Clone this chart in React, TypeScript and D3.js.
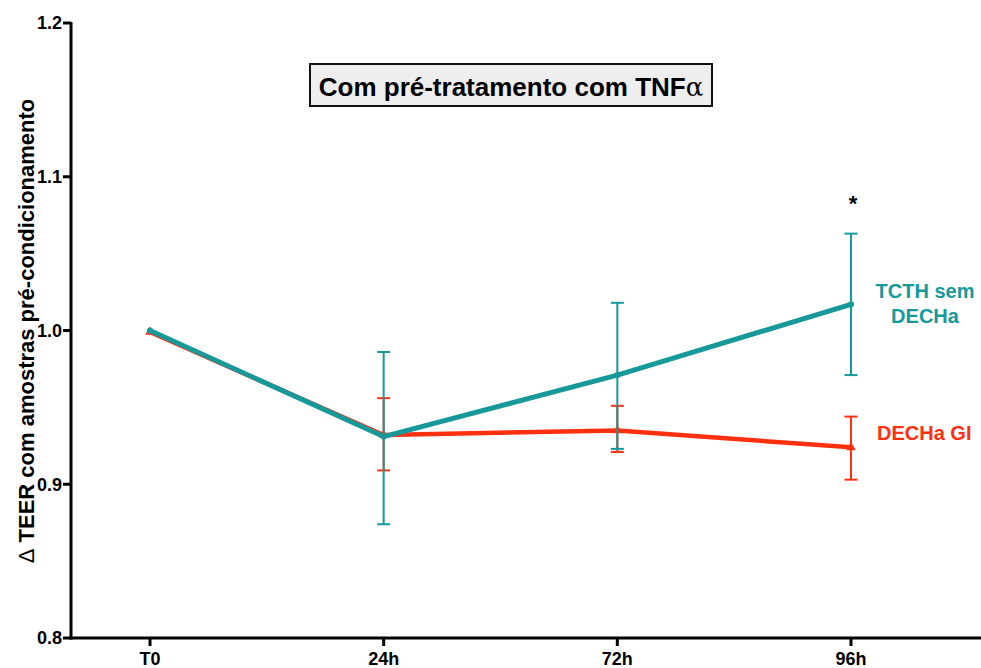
import React from "react";
import * as d3 from "d3";

const categories = ["T0", "24h", "72h", "96h"];
const yTicks = [0.8, 0.9, 1.0, 1.1, 1.2];

const tcthMean = [1.0, 0.931, 0.971, 1.017];
const tcthLow = [1.0, 0.874, 0.923, 0.971];
const tcthHigh = [1.0, 0.986, 1.018, 1.063];

const dechaMean = [0.999, 0.932, 0.935, 0.924];
const dechaLow = [0.999, 0.909, 0.921, 0.903];
const dechaHigh = [0.999, 0.956, 0.951, 0.944];

const TEAL = "#17999a";
const RED = "#ff3010";

export default function App() {
  const W = 981, H = 668;
  const axisX = 71, axisY = 638;
  const x = d3.scalePoint<string>().domain(categories).range([150, 851]);
  const y = d3.scaleLinear().domain([0.8, 1.2]).range([638, 23]);
  const line = d3
    .line<number>()
    .x((_, i) => x(categories[i]) as number)
    .y((d) => y(d));

  const errBars = (lo: number[], hi: number[], color: string, key: string) =>
    categories.map((c, i) => {
      if (hi[i] - lo[i] < 1e-6) return null;
      const cx = x(c) as number;
      return (
        <g key={key + i} stroke={color} strokeWidth={2}>
          <line x1={cx} x2={cx} y1={y(lo[i])} y2={y(hi[i])} />
          <line x1={cx - 6.5} x2={cx + 6.5} y1={y(lo[i])} y2={y(lo[i])} />
          <line x1={cx - 6.5} x2={cx + 6.5} y1={y(hi[i])} y2={y(hi[i])} />
        </g>
      );
    });

  const tri = d3.symbol(d3.symbolTriangle, 40)();
  const circ = d3.symbol(d3.symbolCircle, 30)();

  const font = "'Liberation Sans', Arial, Helvetica, sans-serif";

  return (
    <svg
      width={W}
      height={H}
      style={{ position: "absolute", left: 0, top: 0, background: "#fff" }}
      fontFamily={font}
    >
      {/* red series */}
      {errBars(dechaLow, dechaHigh, RED, "r")}
      <path d={line(dechaMean) || ""} fill="none" stroke={RED} strokeWidth={4.5} strokeLinejoin="round" />
      {dechaMean.map((v, i) => (
        <path key={"rt" + i} d={tri || ""} fill={RED} transform={`translate(${x(categories[i])},${y(v)})`} />
      ))}

      {/* teal series */}
      {errBars(tcthLow, tcthHigh, TEAL, "t")}
      <path d={line(tcthMean) || ""} fill="none" stroke={TEAL} strokeWidth={5} strokeLinejoin="round" />
      {tcthMean.map((v, i) => (
        <path key={"tc" + i} d={circ || ""} fill={TEAL} transform={`translate(${x(categories[i])},${y(v)})`} />
      ))}

      {/* axes */}
      <line x1={axisX} x2={axisX} y1={y(1.2) - 1} y2={axisY + 1.5} stroke="#000" strokeWidth={3} />
      <line x1={axisX - 1.5} x2={W} y1={axisY} y2={axisY} stroke="#000" strokeWidth={3} />
      {yTicks.map((t) => (
        <g key={"yt" + t}>
          <line x1={axisX - 8} x2={axisX} y1={y(t)} y2={y(t)} stroke="#000" strokeWidth={3} />
          <text x={axisX - 9} y={y(t)} dy="0.36em" textAnchor="end" fontSize={18} fontWeight="bold">
            {t.toFixed(1)}
          </text>
        </g>
      ))}
      {categories.map((c) => (
        <g key={"xt" + c}>
          <line x1={x(c)} x2={x(c)} y1={axisY} y2={axisY + 8} stroke="#000" strokeWidth={3} />
          <text x={x(c)} y={665} textAnchor="middle" fontSize={18} fontWeight="bold">
            {c}
          </text>
        </g>
      ))}

      {/* y axis label */}
      <text
        transform={`translate(34,331) rotate(-90)`}
        textAnchor="middle"
        fontSize={22}
        fontWeight="bold"
      >
        <tspan fontWeight="normal">Δ</tspan> TEER com amostras pré-condicionamento
      </text>

      {/* title box */}
      <rect x={310} y={64} width={402} height={42} fill="#eeeeee" stroke="#111" strokeWidth={2} />
      <text x={511} y={96} textAnchor="middle" fontSize={26} fontWeight="bold">
        Com pré-tratamento com TNF
        <tspan fontWeight="normal" fontFamily="'DejaVu Serif', 'Liberation Serif', serif">α</tspan>
      </text>

      {/* asterisk */}
      <text x={853} y={211} textAnchor="middle" fontSize={22} fontWeight="bold">*</text>

      {/* series labels */}
      <text x={925} y={298} textAnchor="middle" fontSize={20} fontWeight="bold" fill={TEAL}>TCTH sem</text>
      <text x={925} y={323} textAnchor="middle" fontSize={20} fontWeight="bold" fill={TEAL}>DECHa</text>
      <text x={877} y={440} textAnchor="start" fontSize={20} fontWeight="bold" fill={RED}>DECHa GI</text>
    </svg>
  );
}
